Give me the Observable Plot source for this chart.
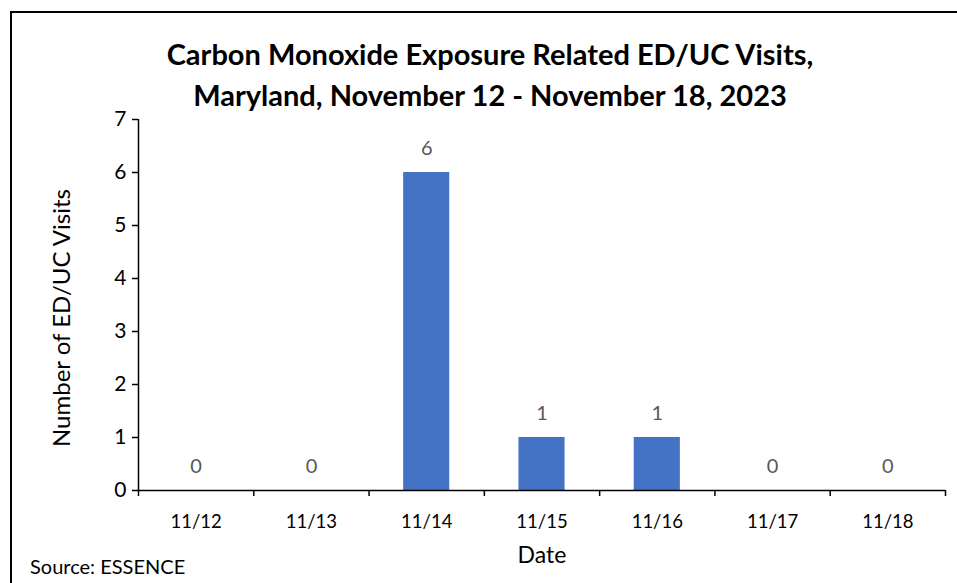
<!DOCTYPE html>
<html>
<head>
<meta charset="utf-8">
<script src="https://cdn.jsdelivr.net/npm/d3@7"></script>
<script src="https://cdn.jsdelivr.net/npm/@observablehq/plot@0.6"></script>
<style>
  body { margin: 0; background: #fff; }
  #wrap { position: relative; width: 957px; height: 583px; overflow: hidden; font-family: Lato, "Open Sans", sans-serif; }
  #border { position: absolute; left: 10px; top: 11px; width: 960px; height: 600px; border-top: 2px solid #000; border-left: 2px solid #000; }
  #title { position: absolute; left: 0; width: 980px; top: 33px; text-align: center; font-weight: bold; font-size: 29px; line-height: 41px; color: #000; }
  #source { position: absolute; left: 30px; top: 554px; font-size: 20px; color: #000; }
  #chart { position: absolute; left: 0; top: 0; }
</style>
</head>
<body>
<div id="wrap">
  <div id="border"></div>
  <div id="chart"></div>
  <div id="title">Carbon Monoxide Exposure Related ED/UC Visits,<br>Maryland, November 12 - November 18, 2023</div>
  <div id="source">Source: ESSENCE</div>
</div>
<script>
const dates = ["11/12", "11/13", "11/14", "11/15", "11/16", "11/17", "11/18"];
const visits = [0, 0, 6, 1, 1, 0, 0];
const yTicks = [0, 1, 2, 3, 4, 5, 6, 7];

const data = dates.map((d, i) => ({date: d, i, value: visits[i]}));

const chart = Plot.plot({
  width: 957,
  height: 583,
  marginLeft: 138,
  marginRight: 12,
  marginTop: 119,
  marginBottom: 93,
  style: {fontFamily: "Lato, 'Open Sans', sans-serif", background: "transparent"},
  x: {domain: [0, dates.length]},
  y: {domain: [0, 7]},
  marks: [
    Plot.rectY(data, {x1: d => d.i + 0.3, x2: d => d.i + 0.7, y: "value", fill: "#4472C4"}),
    Plot.text(data, {x: d => d.i + 0.5, y: "value", text: d => String(d.value), dy: -24, fill: "#595959", fontSize: 20}),
    Plot.axisY({ticks: yTicks, tickSize: 6, tickPadding: 6, fontSize: 21, tickFormat: d => String(d), label: null, color: "#000", strokeWidth: 1.5}),
    Plot.text(["Number of ED/UC Visits"], {frameAnchor: "left", textAnchor: "middle", dx: -76, dy: 13, rotate: -90, fontSize: 24, fill: "#000"}),
    Plot.axisX({ticks: d3.range(dates.length + 1), tickSize: 6, tickFormat: () => "", label: null, strokeWidth: 1.5}),
    Plot.axisX({ticks: dates.map((d, i) => i + 0.5), tickSize: 0, tickPadding: 24, fontSize: 18.5, tickFormat: v => dates[Math.round(v - 0.5)], label: null, color: "#000"}),
    Plot.text(["Date"], {frameAnchor: "bottom", dy: 72, fontSize: 23, fill: "#000"}),
    Plot.ruleX([0], {stroke: "#000", strokeWidth: 1.5}),
    Plot.ruleY([0], {stroke: "#000", strokeWidth: 1.5})
  ]
});
document.getElementById("chart").appendChild(chart);
</script>
</body>
</html>
